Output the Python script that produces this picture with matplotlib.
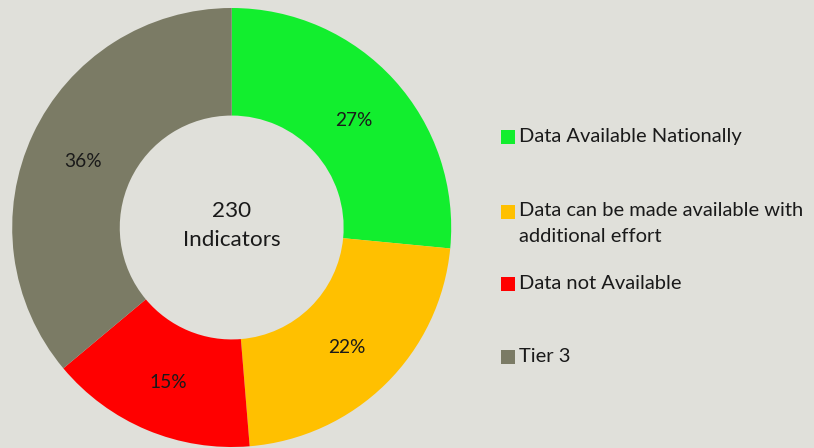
import matplotlib
matplotlib.use("Agg")
import matplotlib.pyplot as plt

# data (230 indicators total)
labels = ["Data Available Nationally",
          "Data can be made available with\nadditional effort",
          "Data not Available",
          "Tier 3"]
counts = [61, 51, 35, 83]
colors = ["#12EE2E", "#FFC000", "#FF0000", "#7B7B65"]
center_lines = ["230", "Indicators"]

BG = "#E0E0DA"
TXT = "#1a1a1a"
plt.rcParams["font.family"] = ["Lato", "DejaVu Sans"]

fig = plt.figure(figsize=(8.14, 4.48), dpi=100, facecolor=BG)

# donut
ax = fig.add_axes([12.2 / 814, 1 / 448, 439 / 814, 439 / 448])
ax.set_facecolor(BG)
wedges, texts, autotexts = ax.pie(
    counts, colors=colors, startangle=90, counterclock=False,
    radius=1.0, autopct="%1.0f%%", pctdistance=0.75,
    wedgeprops=dict(width=0.49, edgecolor="none"),
    textprops=dict(fontsize=13.8, color=TXT),
)
# nudge the percentage labels down a touch
for t in autotexts:
    x, y = t.get_position()
    t.set_position((x, y - 0.015))
ax.set_xlim(-1, 1)
ax.set_ylim(-1, 1)
ax.set_aspect("equal")
for line, y in zip(center_lines, [0.076, -0.055]):
    ax.text(0, y, line, ha="center", va="center", fontsize=16.2, color=TXT)
ax.axis("off")

# legend drawn in pixel coordinates
lax = fig.add_axes([0, 0, 1, 1], facecolor="none")
lax.set_xlim(0, 814)
lax.set_ylim(448, 0)
lax.axis("off")
rows_y = [137.5, 212, 284.5, 357.5]
for lab, col, y in zip(labels, colors, rows_y):
    lax.scatter([507.5], [y], marker="s", s=115, color=col, linewidths=0)
    for i, part in enumerate(lab.split("\n")):
        lax.text(519, y - 1 + 26 * i, part, ha="left", va="center",
                 fontsize=14.5, color=TXT)

fig.savefig("out.png", dpi=100, facecolor=BG)
